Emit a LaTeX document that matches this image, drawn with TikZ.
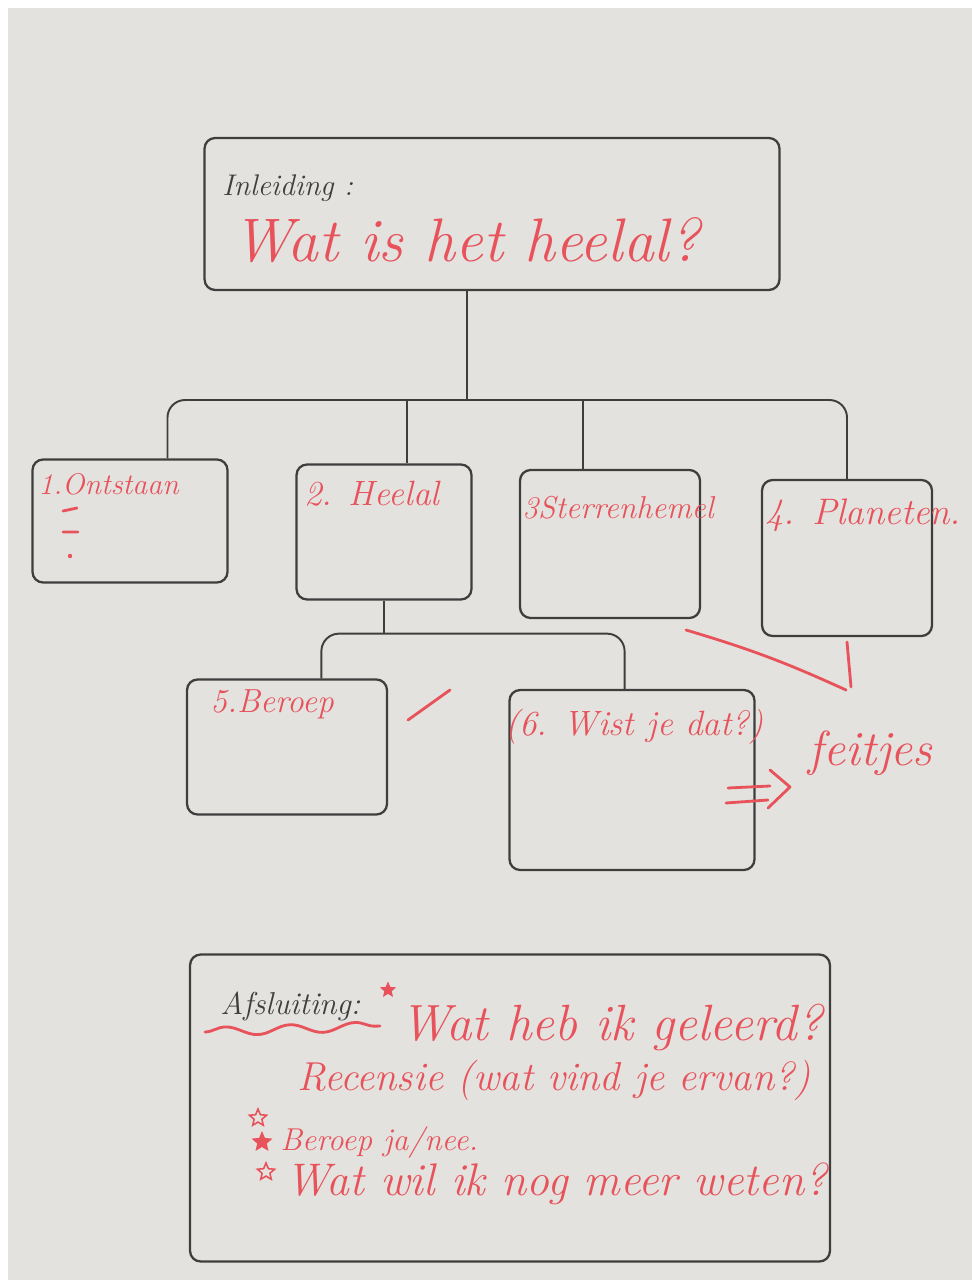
\documentclass[tikz,border=0pt]{standalone}
\usepackage{tikz}
\usetikzlibrary{calc,positioning,shapes.geometric,decorations.pathmorphing}
\definecolor{board}{HTML}{E3E2DE}
\definecolor{marker}{HTML}{3E3E3E}
\definecolor{redink}{HTML}{E8525B}
\newcommand{\fsz}[1]{\fontsize{#1}{#1}\selectfont}
\tikzset{
  card/.style={draw=marker, line width=1.3pt, rounded corners=6pt, inner sep=0pt},
  bus/.style={draw=marker, line width=1.1pt, rounded corners=10pt},
  ink/.style={text=redink, anchor=base west, inner sep=0pt, font=\fsz{#1}\itshape},
  pencil/.style={text=marker, anchor=base west, inner sep=0pt, font=\fsz{#1}\itshape},
  redline/.style={draw=redink, line width=1.6pt, line cap=round, line join=round},
  starmark/.style={star, star points=5, star point ratio=2.2, draw=redink,
    line width=0.9pt, minimum size=0.36cm, inner sep=0pt}
}
\begin{document}
\begin{tikzpicture}[x=0.02cm, y=-0.02cm]
\useasboundingbox (0,0) rectangle (972,1283);
\fill[white] (0,0) rectangle (972,1283);
\fill[board] (8,8) rectangle (972,1280);

% boxes
\node[card, minimum width=11.5cm, minimum height=3.04cm] (intro) at (492,214) {};
\node[card, minimum width=3.9cm, minimum height=2.46cm] (box1) at (130,521) {};
\node[card, minimum width=3.5cm, minimum height=2.7cm] (box2) at (384,532) {};
\node[card, minimum width=3.6cm, minimum height=2.96cm] (box3) at (610,544) {};
\node[card, minimum width=3.4cm, minimum height=3.12cm] (box4) at (847,558) {};
\node[card, minimum width=4.0cm, minimum height=2.7cm] (box5) at (287,747) {};
\node[card, minimum width=4.9cm, minimum height=3.6cm] (box6) at (632,780) {};
\node[card, minimum width=12.8cm, minimum height=6.14cm] (box7) at (510,1108) {};

% texts
\node[pencil=17] (inleiding) at (222,196) {Inleiding :};
\node[ink=35] (vraag) at (232,262) {Wat is het heelal?};
\node[ink=17] (ontstaan) at (38,494) {1.Ontstaan};
\node[ink=20] (heelal) at (304,505) {2. Heelal};
\node[ink=18] (sterren) at (522,518) {3Sterrenhemel};
\node[ink=21] (planeten) at (765,524) {4. Planeten.};
\node[ink=19] (beroep) at (210,712) {5.Beroep};
\node[ink=20] (wist) at (505,735) {(6. Wist je dat?)};
\node[ink=28] (feit) at (808,765) {feitjes};

% list marks in box 1
\draw[redline] (63,511) -- (77,508) (63,532) -- (78,532);
\fill[redink] (70,556) circle (2.2);

% connectors
\coordinate (hub) at (467,400);
\coordinate (t1) at ($(box1.north west)!0.69!(box1.north east)$);
\coordinate (t2) at ($(box2.north west)!0.63!(box2.north east)$);
\coordinate (t3) at ($(box3.north west)!0.35!(box3.north east)$);
\coordinate (t4) at (box4.north);
\draw[bus] (intro.south -| hub) -- (hub);
\draw[bus] (t1) |- (hub) -| (t4);
\draw[bus] (t2) -- (t2 |- hub);
\draw[bus] (t3) -- (t3 |- hub);

\coordinate (hub2) at ($(box2.south)+(0,33)$);
\coordinate (t5) at ($(box5.north west)!0.67!(box5.north east)$);
\coordinate (t6) at ($(box6.north west)!0.47!(box6.north east)$);
\draw[bus] (box2.south) -- (hub2);
\draw[bus] (t5) |- (hub2) -| (t6);

% red marks
\draw[redline] (408,720) -- (450,690);
\coordinate (fa) at (686,630);
\coordinate (fb) at (847,642);
\coordinate (fmeet) at (846,690);
\draw[redline] (fa) to[bend left=4] (fmeet);
\draw[redline] (fb) -- ($(fmeet)+(5,-3)$);
\draw[redline] (728,788) -- (770,786) (726,803) -- (768,800);
\draw[redline] (770,770) -- (790,787) -- (768,808);

% afsluiting
\node[pencil=18] (afsl) at (220,1014) {Afsluiting:};
\draw[redline, decorate, decoration={snake, amplitude=2.5pt, segment length=1.3cm}]
  (205,1032) -- (380,1026);
\node[starmark, fill=redink, minimum size=0.26cm] (s1) at (388,990) {};
\node[ink=29] (geleerd) at (400,1040) {Wat heb ik geleerd?};
\node[ink=23] (recensie) at (297,1090) {Recensie (wat vind je ervan?)};
\node[starmark] (s2) at (258,1118) {};
\node[starmark, fill=redink] (s3) at (262,1142) {};
\node[ink=18] (janee) at (280,1150) {Beroep ja/nee.};
\node[starmark] (s4) at (266,1172) {};
\node[ink=26] (weten) at (285,1195) {Wat wil ik nog meer weten?};
\end{tikzpicture}
\end{document}
